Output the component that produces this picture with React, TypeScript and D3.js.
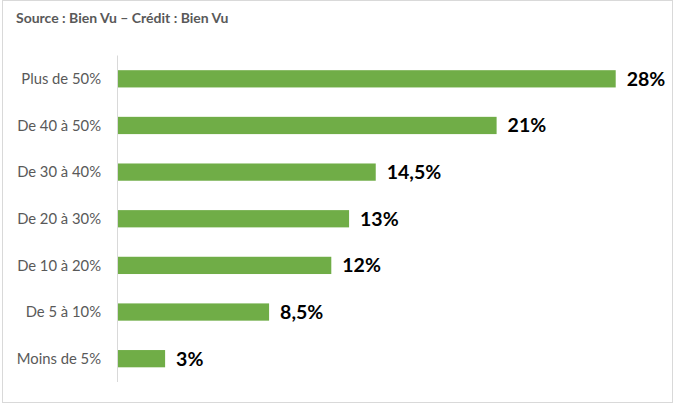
import React from "react";
import * as d3 from "d3";

const categories = ["Plus de 50%", "De 40 à 50%", "De 30 à 40%", "De 20 à 30%", "De 10 à 20%", "De 5 à 10%", "Moins de 5%"];
const values = [28, 21.3, 14.5, 13, 12, 8.5, 2.65];
const valueLabels = ["28%", "21%", "14,5%", "13%", "12%", "8,5%", "3%"];
const title = "Source : Bien Vu – Crédit : Bien Vu";

const W = 675;
const H = 406;
const FONT = "Lato, 'Open Sans', sans-serif";

export default function App() {
  const x = d3.scaleLinear().domain([0, 28]).range([118, 615.7]);
  const y = d3.scaleBand().domain(categories).range([55.5, 382]).paddingInner(0.63).paddingOuter(0.315);
  const bw = y.bandwidth();
  return (
    <svg width={W} height={H} style={{ position: "absolute", left: 0, top: 0, display: "block" }}>
      <rect x={2.5} y={0.5} width={670} height={402} fill="#fff" stroke="#D9D9D9" />
      <text x={16} y={23} fontFamily={FONT} fontWeight="bold" fontSize={14} fill="#595959">{title}</text>
      {categories.map((c, i) => (
        <g key={c}>
          <rect x={x(0)} y={y(c)!} width={x(values[i]) - x(0)} height={bw} fill="#70AD47" />
          <text x={101} y={y(c)! + bw / 2} dy="0.35em" textAnchor="end" fontFamily={FONT} fontSize={14.8} fill="#595959">{c}</text>
          <text x={x(values[i]) + 11} y={y(c)! + bw / 2} dy="0.36em" fontFamily={FONT} fontWeight="bold" fontSize={19.5} fill="#000">{valueLabels[i]}</text>
        </g>
      ))}
      <line x1={117.5} x2={117.5} y1={55.5} y2={382} stroke="#D9D9D9" />
    </svg>
  );
}
